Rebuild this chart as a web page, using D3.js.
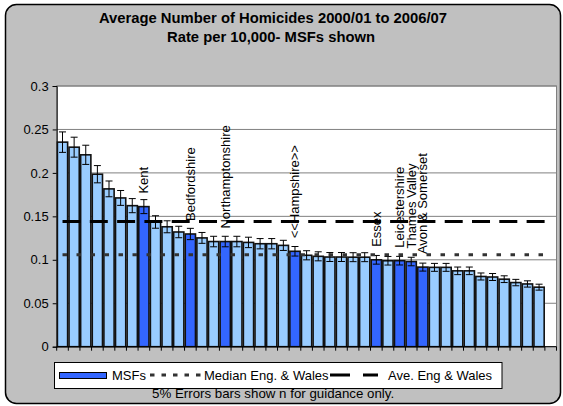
<!DOCTYPE html>
<html><head><meta charset="utf-8">
<script src="https://cdn.jsdelivr.net/npm/d3@7"></script>
<style>body{margin:0;background:#fff}svg{display:block;font-family:"Liberation Sans",Arial,sans-serif}</style>
</head><body><svg id="c" width="563" height="406"></svg>
<script>
// Data
const values = [0.2354,0.2296,0.2208,0.1985,0.1816,0.1712,0.1623,0.1612,0.1435,0.1380,0.1320,0.1297,
  0.1252,0.1210,0.1210,0.1210,0.1200,0.1185,0.1185,0.1166,0.1098,0.1052,0.1040,0.1032,0.1032,0.1030,0.1030,
  0.1000,0.0989,0.0990,0.0980,0.0916,0.0913,0.0913,0.0873,0.0873,0.0808,0.0802,0.0777,0.0738,0.0722,0.0685,null];
const labels = ["","","","","","","","Kent","","","","Bedfordshire","","","Northamptonshire","","","","","","<<Hampshire>>",
  "","","","","","","Essex","","Leicestershire","Thames Valley","Avon & Somerset","","","","","","","","","","",""];
const msf = labels.map(l => l !== "");
const aveEW = 0.1442;
const medianEW = 0.1058;
const yTicks = [0,0.05,0.1,0.15,0.2,0.25,0.3];
const yTickLabels = ["0","0.05","0.1","0.15","0.2","0.25","0.3"];
const title1 = "Average Number of Homicides 2000/01 to 2006/07";
const title2 = "Rate per 10,000- MSFs shown";
const legendItems = ["MSFs","Median Eng. & Wales","Ave. Eng & Wales"];
const footer = "5% Errors bars show n for guidance only.";

const svg = d3.select("#c");
const L = 56.7, R = 556.5, T = 86, B = 346.7;
const idx = values.map((d,i)=>i);
const x = d3.scaleBand().domain(idx).range([L,R]).paddingInner(0.12).paddingOuter(0.06);
const step = (R-L)/values.length;
const y = d3.scaleLinear().domain([0,0.3]).range([B,T]);

// chart background
svg.append("rect").attr("x",5.5).attr("y",4.5).attr("width",555).attr("height",399).attr("rx",11)
  .attr("fill","#C0C0C0").attr("stroke","#000").attr("stroke-width",1.5);

// titles
svg.append("text").attr("x",273).attr("y",23).attr("text-anchor","middle").attr("font-weight","bold").attr("font-size",14.8).text(title1);
svg.append("text").attr("x",271).attr("y",42).attr("text-anchor","middle").attr("font-weight","bold").attr("font-size",14.8).text(title2);

// plot area
svg.append("rect").attr("x",L).attr("y",T).attr("width",R-L).attr("height",B-T).attr("fill","#fff").attr("stroke","#808080").attr("stroke-width",1);
svg.append("g").selectAll("line").data(yTicks.filter(t=>t>0)).join("line")
  .attr("x1",L).attr("x2",R).attr("y1",d=>y(d)).attr("y2",d=>y(d)).attr("stroke","#808080").attr("stroke-width",1);

// y axis
const yAxis = d3.axisLeft(y).tickValues(yTicks).tickSize(4).tickPadding(4).tickFormat((d,i)=>yTickLabels[i]);
const gy = svg.append("g").attr("transform",`translate(${L},0)`).call(yAxis);
gy.select(".domain").attr("stroke","#000");
gy.selectAll("text").attr("font-size",13).attr("fill","#000").attr("font-family","Liberation Sans, Arial, sans-serif");

// bars
const vals = values.map((v,i)=>({v,i})).filter(d=>d.v!==null);
svg.append("g").selectAll("rect").data(vals).join("rect")
  .attr("x",d=>x(d.i)).attr("width",x.bandwidth()).attr("y",d=>y(d.v)).attr("height",d=>B-y(d.v))
  .attr("fill",d=>msf[d.i]?"#3366FF":"#99CCFF").attr("stroke","#111").attr("stroke-width",1.6);

// error bars
const eb = svg.append("g").attr("stroke","#000").attr("stroke-width",1);
vals.forEach(d=>{
  const cx = x(d.i)+x.bandwidth()/2;
  eb.append("line").attr("x1",cx).attr("x2",cx).attr("y1",y(d.v*0.95)).attr("y2",y(d.v*1.05));
  [0.95,1.05].forEach(f=>eb.append("line").attr("x1",cx-3.5).attr("x2",cx+3.5).attr("y1",y(d.v*f)).attr("y2",y(d.v*f)));
});

// x axis
svg.append("line").attr("x1",L).attr("x2",R).attr("y1",B).attr("y2",B).attr("stroke","#000");
svg.append("g").selectAll("line").data(d3.range(values.length+1)).join("line")
  .attr("x1",d=>L+d*step).attr("x2",d=>L+d*step).attr("y1",B).attr("y2",B+4).attr("stroke","#000");

// data labels
svg.append("g").selectAll("text").data(vals.filter(d=>labels[d.i]!=="")).join("text")
  .attr("transform",d=>`translate(${x(d.i)+x.bandwidth()/2},${y(d.v)-13}) rotate(-90)`)
  .attr("dominant-baseline","central").attr("font-size",13).text(d=>labels[d.i]);

// reference lines
const c0 = x(0)+x.bandwidth()/2, cN = x(values.length-1)+x.bandwidth()/2;
svg.append("line").attr("x1",c0).attr("x2",cN).attr("y1",y(aveEW)).attr("y2",y(aveEW))
  .attr("stroke","#000").attr("stroke-width",3).attr("stroke-dasharray","18,9.3");
svg.append("line").attr("x1",c0).attr("x2",cN).attr("y1",y(medianEW)).attr("y2",y(medianEW))
  .attr("stroke","#333").attr("stroke-width",3).attr("stroke-dasharray","4.5,9.5");

// legend
const lg = svg.append("g");
lg.append("rect").attr("x",54.5).attr("y",362.5).attr("width",447.5).attr("height",26).attr("fill","#fff").attr("stroke","#000");
lg.append("rect").attr("x",59.5).attr("y",372.5).attr("width",47).attr("height",6).attr("fill","#3366FF").attr("stroke","#000");
lg.append("text").attr("x",112).attr("y",379.5).attr("font-size",13).text(legendItems[0]);
lg.append("line").attr("x1",150).attr("x2",203).attr("y1",375).attr("y2",375).attr("stroke","#333").attr("stroke-width",3).attr("stroke-dasharray","4.5,7");
lg.append("text").attr("x",204).attr("y",379.5).attr("font-size",13).text(legendItems[1]);
lg.append("line").attr("x1",330).attr("x2",378).attr("y1",375).attr("y2",375).attr("stroke","#000").attr("stroke-width",3).attr("stroke-dasharray","20,13");
lg.append("text").attr("x",388).attr("y",379.5).attr("font-size",13).text(legendItems[2]);

svg.append("text").attr("x",152).attr("y",398).attr("font-size",13.3).text(footer);
</script></body></html>
